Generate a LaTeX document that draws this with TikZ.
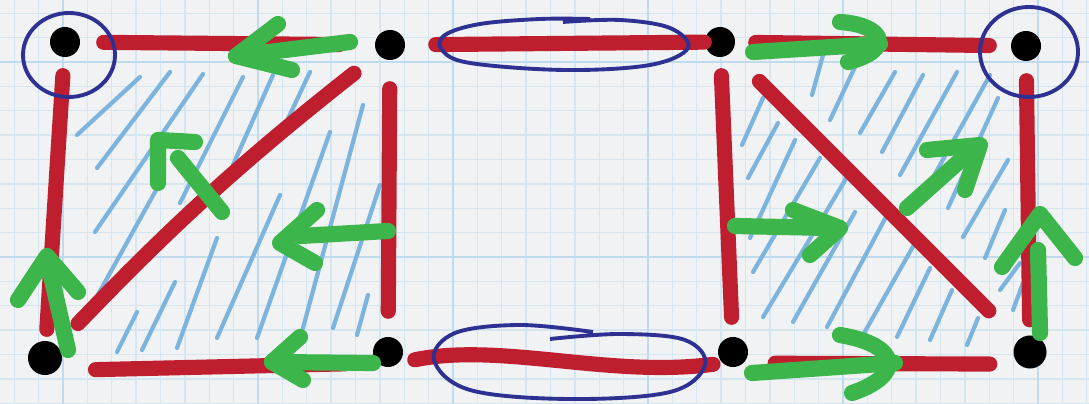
\documentclass[tikz,border=0pt]{standalone}
\usepackage{xcolor}
\definecolor{sqpaper}{HTML}{F0F2F3}
\definecolor{sqgrid}{HTML}{D5E6F1}
\definecolor{sqgridmajor}{HTML}{BFDBEC}
\definecolor{sqred}{HTML}{BF1E2E}
\definecolor{sqgreen}{HTML}{3CB64A}
\definecolor{sqblue}{HTML}{2E3192}
\definecolor{sqhatch}{HTML}{7DB4DE}
\usepackage{tikz}
\usetikzlibrary{calc}
\tikzset{
  sqdot/.style={circle,fill=black,inner sep=0pt,minimum size=3mm},
  sqedge/.style={draw=sqred,line width=4.3pt,line cap=round},
  sqring/.style={draw=sqblue,line width=1.1pt},
  sqflow/.style={draw=sqgreen,line width=4.6pt,line cap=round,line join=round},
  sqshade/.style={draw=sqhatch,line width=1.2pt,line cap=round},
  sqminor/.style={draw=sqgrid,line width=0.4pt},
  sqmajor/.style={draw=sqgridmajor,line width=0.6pt},
}

\begin{document}
\begin{tikzpicture}[x=0.01cm,y=-0.01cm]
 % paper and grid
\fill[sqpaper] (0,0) rectangle (1089,404);
\useasboundingbox (0,0) rectangle (1089,404);
\foreach \i in {0,...,44} \draw[sqminor] ({14.25+24.375*\i},0) -- ++(0,404);
\foreach \j in {0,...,16} \draw[sqminor] (0,{13.25+24.375*\j}) -- ++(1089,0);
\foreach \i in {0,...,5} \draw[sqmajor] ({63+195*\i},0) -- ++(0,404);
\foreach \j in {0,1} \draw[sqmajor] (0,{62+195*\j}) -- ++(1089,0);
 % hatching, left square
\foreach \xa/\ya/\xb/\yb in {77/135/140/77,97/168/170/72,95/232/203/74,180/203/243/77,233/165/273/75,285/125/310/72,
  95/300/160/183,117/352/137/312,142/350/175/282,177/348/217/238,217/338/280/195,257/338/330/132,
  303/328/363/105,333/328/380/185,357/335/368/295}
  \draw[sqshade] (\xa,\ya) -- (\xb,\yb);
 % hatching, right square
\foreach \xa/\ya/\xb/\yb in {742/145/763/98,748/178/778/123,750/238/795/140,753/272/820/158,763/317/847/177,
  793/322/855/212,827/327/887/215,863/335/915/243,897/337/930/268,930/340/952/290,967/345/978/318,
  812/95/823/55,830/120/855/67,860/133/895/72,882/152/923/75,900/175/957/72,930/183/990/75,
  948/208/998/98,963/237/1008/160,985/258/1005/210,1000/290/1020/263,1013/310/1023/283}
  \draw[sqshade] (\xa,\ya) -- (\xb,\yb);
 % vertices
\node[sqdot] (tl) at (65,42) {};
\node[sqdot] (tml) at (390,45) {};
\node[sqdot] (tmr) at (720,42) {};
\node[sqdot] (tr) at (1026,46) {};
\node[sqdot,minimum size=3.4mm] (bl) at (45,358) {};
\node[sqdot] (bml) at (388,352) {};
\node[sqdot] (bmr) at (733,352) {};
\node[sqdot,minimum size=3.3mm] (br) at (1030,352) {};
 % red edges
\draw[sqedge,shorten <=2.3mm,shorten >=3.5mm] (tl) -- (tml);
\draw[sqedge,shorten <=1.8mm,shorten >=1.1mm] (tl) -- (bl);
\draw[sqedge,shorten <=2.8mm,shorten >=2.5mm] (tml) -- (bml);
\draw[sqedge,shorten <=3.8mm,shorten >=3.2mm] (bl.south east) -- (bml.south west);
\draw[sqedge,shorten <=3mm,shorten >=3mm] (tml) to[bend right=4] (bl);
\draw[sqedge,shorten <=3mm] (tml) -- (tmr);
\draw[sqedge,shorten <=1.6mm,shorten >=0.9mm] (bml.south east) .. controls (500,342) and (610,378) .. (bmr.south west);
\draw[sqedge,shorten <=2mm,shorten >=2.1mm] (tmr) -- (tr);
\draw[sqedge,shorten <=1.8mm,shorten >=1.9mm] (tmr) -- (bmr);
\draw[sqedge,shorten <=1.9mm,shorten >=1.5mm] (tr) -- (br);
\draw[sqedge,shorten <=3.1mm,shorten >=2.8mm] (bmr.south east) -- (br.south west);
\draw[sqedge,shorten <=4mm,shorten >=4.1mm] (tmr) -- (br);
 % blue rings
\draw[sqring] (tl) ++(4,13) ellipse [x radius=46,y radius=42];
\draw[sqring] (tr) ++(3,6) ellipse [x radius=49,y radius=45];
\draw[sqring] plot[smooth,tension=0.6] coordinates {(590,19) (540,19) (480,24) (445,35) (442,50) (470,63)
  (565,70) (650,65) (688,48) (670,28) (620,20) (563,22)};
\draw[sqring] plot[smooth,tension=0.6] coordinates {(593,332) (520,325) (455,333) (434,360) (470,390)
  (569,399) (670,392) (705,365) (685,340) (620,334) (550,339)};
 % green arrows, left square
\draw[sqflow] (350,42) -- (236,56);
\draw[sqflow] (278,24) -- (236,56) -- (292,70);
\draw[sqflow] (222,212) -- (178,158);
\draw[sqflow] (195,142) -- (158,140) -- (158,183);
\draw[sqflow] (388,231) -- (300,236);
\draw[sqflow] (317,210) -- (280,243) -- (315,263);
\draw[sqflow] (373,363) -- (272,362);
\draw[sqflow] (300,337) -- (272,362) -- (303,380);
\draw[sqflow] (68,350) -- (47,258);
\draw[sqflow] (18,300) -- (47,256) -- (78,292);
 % green arrows, right square
\draw[sqflow] (753,52) -- (880,44);
\draw[sqflow] (840,22) .. controls (885,25) and (895,50) .. (848,62);
\draw[sqflow] (735,226) -- (830,228);
\draw[sqflow] (793,210) -- (840,228) -- (810,255);
\draw[sqflow] (907,208) -- (972,150);
\draw[sqflow] (927,150) -- (980,145) -- (965,190);
\draw[sqflow] (1040,333) -- (1038,250);
\draw[sqflow] (1002,267) -- (1040,214) -- (1075,258);
\draw[sqflow] (752,373) -- (895,363);
\draw[sqflow] (840,335) .. controls (900,345) and (905,375) .. (852,393);
\end{tikzpicture}
\end{document}
